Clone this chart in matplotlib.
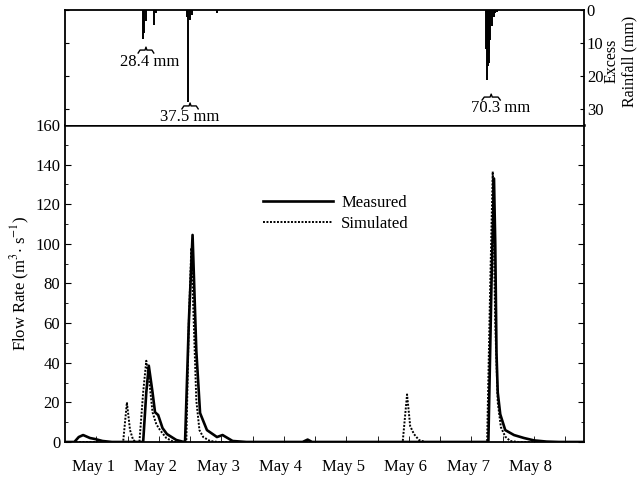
import numpy as np
import matplotlib
matplotlib.use("Agg")
import matplotlib.pyplot as plt

plt.rcParams['font.family'] = ['Liberation Serif', 'DejaVu Serif']
plt.rcParams['mathtext.fontset'] = 'stix'

# time in days from May 1 00:00
meas_t = [0.00, 0.15, 0.22, 0.29, 0.40, 0.48, 0.60, 0.75, 1.25, 1.30, 1.34, 1.40, 1.44,
          1.49, 1.56, 1.63, 1.78, 1.90, 1.92, 1.98, 2.04, 2.10, 2.16, 2.27, 2.43, 2.52,
          2.68, 2.90, 3.80, 3.88, 3.95, 6.77, 6.82, 6.86, 6.88, 6.90, 6.92, 6.96, 7.04,
          7.18, 7.34, 7.50, 7.70, 7.90, 8.30]
meas_q = [0, 0, 2.5, 3.5, 2.0, 1.5, 0.5, 0, 0, 25, 38.5, 25, 15,
          13.6, 7, 4, 1, 0, 0, 60, 104.5, 46, 14.6, 6, 2.5, 3.5,
          0.5, 0, 0, 1.2, 0, 0, 80, 133, 100, 45, 25, 14, 6,
          3.5, 2, 0.8, 0.2, 0, 0]

sim_t = [0.00, 0.93, 0.99, 1.04, 1.09, 1.14, 1.19, 1.25, 1.30, 1.35, 1.40, 1.46, 1.52,
         1.62, 1.74, 1.94, 1.98, 2.02, 2.07, 2.10, 2.15, 2.21, 2.32, 2.45, 5.40, 5.47,
         5.52, 5.58, 5.66, 5.76, 6.75, 6.80, 6.84, 6.88, 6.92, 6.97, 7.04, 7.12, 7.25, 8.30]
sim_q = [0, 0, 20, 6, 1, 0, 0, 25, 41, 30, 15, 9, 6,
         2, 0, 0, 60, 98, 50, 21, 6, 2.5, 0.5, 0, 0, 24,
         8, 4, 1, 0, 0, 80, 136.5, 60, 20, 7.5, 2.7, 0.5, 0, 0]

# excess rainfall hyetograph (mm)
rain_t = [1.25, 1.27, 1.30, 1.43, 1.46, 1.95, 1.97, 2.00, 2.03, 2.43,
          6.736, 6.747, 6.76, 6.773, 6.787, 6.80, 6.827, 6.853, 6.88, 6.907]
rain_mm = [8.8, 7.0, 3.5, 4.6, 1.0, 2.0, 27.9, 3.0, 1.5, 1.0,
           12, 21.3, 17, 16, 13, 9, 5, 2, 1, 0.7]

storm_labels = ['28.4 mm', '37.5 mm', '70.3 mm']
storm_brace = [(1.17, 1.42, 12.2), (1.87, 2.13, 29.2), (6.67, 6.96, 26.5)]
storm_text = [(1.36, 15.8), (2.0, 32.6), (6.96, 29.8)]

day_labels = ['May 1', 'May 2', 'May 3', 'May 4', 'May 5', 'May 6', 'May 7', 'May 8']

fig = plt.figure(figsize=(6.39, 4.80), dpi=100)
ax = fig.add_axes([0.1017, 0.0792, 0.8123, 0.6604])
axr = fig.add_axes([0.1017, 0.7396, 0.8123, 0.2396], sharex=ax)

ax.plot(meas_t, meas_q, color='black', lw=1.9, label='Measured')
ax.plot(sim_t, sim_q, color='black', lw=1.4, ls=(0, (1, 0.8)), label='Simulated')

ax.set_xlim(0, 8.3)
ax.set_ylim(0, 160)
ax.set_yticks(np.arange(0, 161, 20))
ax.set_yticks(np.arange(0, 161, 10), minor=True)
ax.set_xticks(np.arange(0.45, 8, 1), day_labels)
ax.set_xticks(np.arange(0.5, 8.5, 0.5), minor=True)
ax.tick_params(axis='x', which='major', length=0, pad=12, labelsize=12)
ax.tick_params(axis='x', which='minor', direction='in', length=4)
ax.tick_params(axis='y', which='both', direction='in', labelsize=12, right=True)
ax.tick_params(axis='y', which='major', length=4)
ax.tick_params(axis='y', which='minor', length=2)
fig.text(20 / 639, 1 - 283 / 480, r'Flow Rate (m$^3$$\cdot$ s$^{-1}$)', fontsize=12,
         rotation=90, ha='center', va='center')
for s in ax.spines.values():
    s.set_linewidth(1.3)
ax.spines['top'].set_linewidth(1.8)

ax.legend(loc='upper left', bbox_to_anchor=(0.365, 0.805), frameon=False, fontsize=12,
          handlelength=4.2, handletextpad=0.5, labelspacing=0.3, borderpad=0)

# rainfall panel
axr.vlines(rain_t, 0, rain_mm, color='black', lw=1.4)
axr.set_ylim(35, 0)
axr.set_yticks([0, 10, 20, 30])
axr.tick_params(axis='y', direction='in', left=True, right=True, labelleft=False,
                labelright=True, labelsize=12, length=3, pad=2)
axr.tick_params(axis='x', which='both', bottom=False, labelbottom=False)
fig.text(620 / 639, 1 - 61 / 480, 'Excess\nRainfall (mm)', fontsize=11.5, rotation=90,
         ha='center', va='center', linespacing=1.15, multialignment='center')
for s in axr.spines.values():
    s.set_linewidth(1.3)
axr.spines['bottom'].set_visible(False)

for (x0, x1, y), (tx, ty), lab in zip(storm_brace, storm_text, storm_labels):
    w = x1 - x0
    xm = (x0 + x1) / 2
    bx = [x0, x0 + 0.12 * w, xm - 0.06 * w, xm, xm + 0.06 * w, x1 - 0.12 * w, x1]
    by = [y + 0.9, y, y, y - 0.9, y, y, y + 0.9]
    axr.plot(bx, by, color='black', lw=1.0)
    axr.text(tx, ty, lab, ha='center', va='center', fontsize=12)

fig.savefig('out.png', dpi=100)
